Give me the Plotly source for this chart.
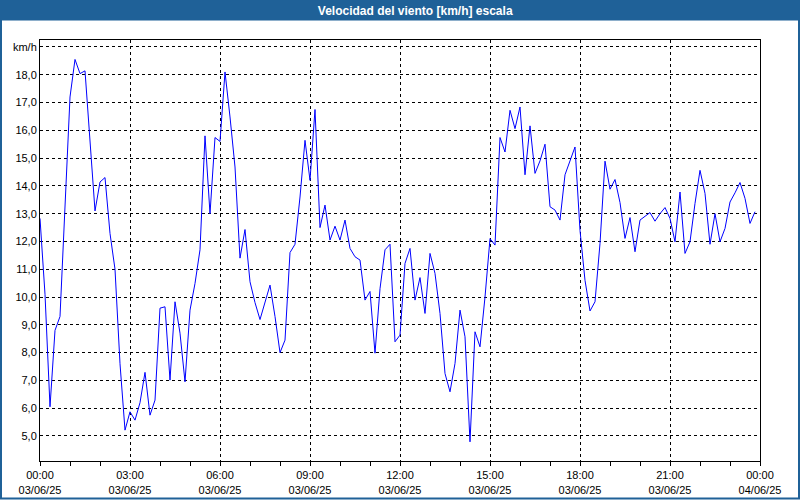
import pandas as pd
import plotly.graph_objects as go

# ---- data (10-minute samples, 03/06/25 00:00 .. 23:50) ----
start_time = "2025-06-03 00:00"
step = "10min"
wind_kmh = [
    12.83, 10.1, 6.05, 8.8, 9.3, 13.25, 17.2, 18.55, 18.04, 18.14,
    15.7, 13.1, 14.14, 14.3, 12.29, 11.0, 7.6, 5.21, 5.87, 5.57,
    6.2, 7.29, 5.75, 6.29, 9.6, 9.65, 7.01, 9.83, 8.7, 6.95,
    9.53, 10.49, 11.7, 15.8, 13.0, 15.74, 15.6, 18.1, 16.48, 14.68,
    11.4, 12.43, 10.55, 9.8, 9.19, 9.85, 10.43, 9.3, 8.0, 8.45,
    11.6, 11.9, 13.6, 15.64, 14.2, 16.75, 12.5, 13.31, 12.05, 12.55,
    12.05, 12.77, 11.75, 11.45, 11.33, 9.89, 10.2, 7.98, 10.3, 11.7,
    11.9, 8.39, 8.63, 11.21, 11.75, 9.89, 10.7, 9.41, 11.57, 10.85,
    9.41, 7.25, 6.59, 7.61, 9.53, 8.57, 4.79, 8.75, 8.21, 10.0,
    12.1, 11.87, 15.74, 15.22, 16.72, 16.06, 16.84, 14.4, 16.16, 14.45,
    14.9, 15.5, 13.25, 13.13, 12.77, 14.4, 14.9, 15.4, 12.4, 10.6,
    9.5, 9.83, 11.93, 14.89, 13.88, 14.23, 13.4, 12.11, 12.86, 11.63,
    12.77, 12.91, 13.04, 12.73, 13.0, 13.22, 12.83, 11.99, 13.78, 11.57,
    11.99, 13.37, 14.56, 13.73, 11.9, 13.0, 11.99, 12.47, 13.42, 13.75,
    14.12, 13.55, 12.65, 13.07,
]
x_tick_times = ["2025-06-03 00:00", "2025-06-03 03:00", "2025-06-03 06:00",
                "2025-06-03 09:00", "2025-06-03 12:00", "2025-06-03 15:00",
                "2025-06-03 18:00", "2025-06-03 21:00", "2025-06-04 00:00"]
x_tick_labels = ["00:00<br>03/06/25", "03:00<br>03/06/25", "06:00<br>03/06/25",
                 "09:00<br>03/06/25", "12:00<br>03/06/25", "15:00<br>03/06/25",
                 "18:00<br>03/06/25", "21:00<br>03/06/25", "00:00<br>04/06/25"]
y_tick_vals = [5, 6, 7, 8, 9, 10, 11, 12, 13, 14, 15, 16, 17, 18, 19]
y_tick_labels = ["5,0", "6,0", "7,0", "8,0", "9,0", "10,0", "11,0", "12,0",
                 "13,0", "14,0", "15,0", "16,0", "17,0", "18,0", "km/h"]
title_text = "Velocidad del viento [km/h] escala"

times = pd.date_range(start=start_time, periods=len(wind_kmh), freq=step)

BAR = "#1f6198"
FONT = "Liberation Sans"

fig = go.Figure()
fig.add_trace(go.Scatter(x=times, y=wind_kmh, mode="lines",
                         line=dict(color="#0000ff", width=1),
                         hoverinfo="x+y", showlegend=False))

fig.update_layout(
    width=800, height=500,
    margin=dict(l=40, r=40, t=40, b=39, autoexpand=False),
    paper_bgcolor="white", plot_bgcolor="white",
    font=dict(family=FONT, size=11, color="#000000"),
    title=dict(text="<b>" + title_text + "</b>", x=0.519, xref="container",
               xanchor="center", y=0.979, yanchor="middle",
               font=dict(family=FONT, size=12, color="white")),
    xaxis=dict(
        type="date", automargin=False,
        range=[x_tick_times[0], x_tick_times[-1]],
        tickmode="array", tickvals=x_tick_times, ticktext=x_tick_labels,
        ticks="outside", ticklen=4, tickcolor="#000", tickwidth=1,
        minor=dict(dtick=3600000, ticks="outside", ticklen=4, tickcolor="#000", showgrid=False),
        showgrid=True, gridcolor="#000", gridwidth=1, griddash="3px,3px",
        showline=True, linecolor="#000", linewidth=1, mirror=True,
        zeroline=False, tickfont=dict(family=FONT, size=11, color="#000"),
    ),
    yaxis=dict(
        automargin=False,
        range=[4.1, 19.25],
        tickmode="array", tickvals=y_tick_vals, ticktext=y_tick_labels,
        ticks="", showgrid=True, gridcolor="#000", gridwidth=1, griddash="3px,3px",
        showline=True, linecolor="#000", linewidth=1, mirror=True,
        zeroline=False, tickfont=dict(family=FONT, size=11, color="#000"),
    ),
    shapes=[
        # title bar
        dict(type="rect", xref="paper", yref="paper", x0=-40/720, x1=760/720,
             y0=1 + 19.5/421, y1=1 + 40/421, fillcolor=BAR, line=dict(width=0), layer="below"),
        # outer frame
        dict(type="rect", xref="paper", yref="paper", x0=-39/720, x1=759/720,
             y0=-37.5/421, y1=1 + 39/421, fillcolor="rgba(0,0,0,0)",
             line=dict(color=BAR, width=2), layer="below"),
    ],
)

fig.write_html(
    "out.html",
    config={"displayModeBar": False},
    post_script="document.body.style.margin='0';document.body.style.padding='0';"
                "document.body.style.overflow='hidden';",
)
